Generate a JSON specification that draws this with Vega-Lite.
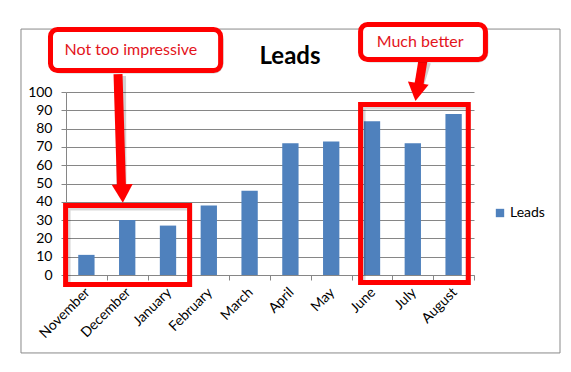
{
  "$schema": "https://vega.github.io/schema/vega-lite/v6.json",
  "width": 408,
  "height": 183,
  "autosize": {"type": "none"},
  "padding": {"left": 66, "top": 92, "right": 97, "bottom": 97},
  "background": "white",
  "config": {
    "font": "Lato",
    "view": {"stroke": null},
    "axis": {"labelFont": "Lato", "labelColor": "black", "labelFontSize": 14},
    "legend": {"labelFont": "Lato", "labelFontSize": 14, "labelColor": "black"}
  },
  "resolve": {"scale": {"x": "independent", "y": "independent"}, "axis": {"x": "independent", "y": "independent"}},
  "layer": [
    {
      "data": {"values": [{"x": -1.103, "x2": 12.108, "y": 134.4, "y2": -42.6}]},
      "mark": {"type": "rect", "filled": false, "stroke": "#898989", "strokeWidth": 1},
      "encoding": {
        "x": {"field": "x", "type": "quantitative", "scale": {"domain": [0, 10], "nice": false, "zero": false}, "axis": null},
        "x2": {"field": "x2"},
        "y": {"field": "y", "type": "quantitative", "scale": {"domain": [0, 100], "nice": false, "zero": false}, "axis": null},
        "y2": {"field": "y2"}
      }
    },
    {
      "data": {"values": [{"x": 5.49, "y": 115.5, "label": "Leads"}]},
      "mark": {"type": "text", "color": "black", "font": "Lato", "fontSize": 24, "fontWeight": "bold", "align": "center", "baseline": "alphabetic"},
      "encoding": {
        "x": {"field": "x", "type": "quantitative", "scale": {"domain": [0, 10], "nice": false, "zero": false}, "axis": null},
        "y": {"field": "y", "type": "quantitative", "scale": {"domain": [0, 100], "nice": false, "zero": false}, "axis": null},
        "text": {"field": "label"}
      }
    },
    {
      "data": {"values": [
        {"month": "November", "leads": 11, "series": "Leads"},
        {"month": "December", "leads": 30, "series": "Leads"},
        {"month": "January", "leads": 27, "series": "Leads"},
        {"month": "February", "leads": 38, "series": "Leads"},
        {"month": "March", "leads": 46, "series": "Leads"},
        {"month": "April", "leads": 72, "series": "Leads"},
        {"month": "May", "leads": 73, "series": "Leads"},
        {"month": "June", "leads": 84, "series": "Leads"},
        {"month": "July", "leads": 72, "series": "Leads"},
        {"month": "August", "leads": 88, "series": "Leads"}
      ]},
      "mark": {"type": "bar", "width": {"band": 0.4}},
      "encoding": {
        "x": {
          "field": "month", "type": "nominal", "sort": null,
          "scale": {"paddingInner": 0, "paddingOuter": 0},
          "axis": {"title": null, "labelAngle": -45, "labelAlign": "right", "labelBaseline": "top", "labelOffset": -4, "tickBand": "extent", "tickSize": 5, "tickColor": "#868686", "domainColor": "#868686", "labelPadding": 5, "grid": false}
        },
        "y": {
          "field": "leads", "type": "quantitative",
          "scale": {"domain": [0, 100], "nice": false, "zero": true},
          "axis": {"title": null, "values": [0, 10, 20, 30, 40, 50, 60, 70, 80, 90, 100], "grid": true, "gridColor": "#868686", "gridOpacity": 1, "tickSize": 5, "tickColor": "#868686", "domainColor": "#868686", "labelPadding": 9}
        },
        "color": {
          "field": "series", "type": "nominal",
          "scale": {"range": ["#4F81BD"]},
          "legend": {"title": null, "orient": "none", "legendX": 427, "legendY": 114, "symbolType": "square", "symbolSize": 70, "symbolStrokeWidth": 0, "labelOffset": 3}
        }
      }
    },
    {
      "data": {"values": [
        {"x": -0.01, "x2": 3.03, "y": 38.0, "y2": -5.2},
        {"x": 7.22, "x2": 9.86, "y": 93.2, "y2": -4.1}
      ]},
      "layer": [
        {"mark": {"type": "rect", "filled": false, "stroke": "black", "strokeOpacity": 0.15, "strokeWidth": 5, "xOffset": 2.5, "yOffset": 2.5}},
        {"mark": {"type": "rect", "filled": false, "stroke": "#FF0000", "strokeWidth": 5}}
      ],
      "encoding": {
        "x": {"field": "x", "type": "quantitative", "scale": {"domain": [0, 10], "nice": false, "zero": false}, "axis": null},
        "x2": {"field": "x2"},
        "y": {"field": "y", "type": "quantitative", "scale": {"domain": [0, 100], "nice": false, "zero": false}, "axis": null},
        "y2": {"field": "y2"}
      }
    },
    {
      "data": {"values": [
        {"x": 1.275, "y": 109.8, "x2": 1.36, "y2": 47.5},
        {"x": 8.75, "y": 117.5, "x2": 8.65, "y2": 103.8}
      ]},
      "layer": [
        {"mark": {"type": "rule", "stroke": "black", "strokeOpacity": 0.18, "strokeWidth": 10, "xOffset": 3, "yOffset": 2}},
        {"mark": {"type": "rule", "stroke": "#FF0000", "strokeWidth": 9}}
      ],
      "encoding": {
        "x": {"field": "x", "type": "quantitative", "scale": {"domain": [0, 10], "nice": false, "zero": false}, "axis": null},
        "x2": {"field": "x2"},
        "y": {"field": "y", "type": "quantitative", "scale": {"domain": [0, 100], "nice": false, "zero": false}, "axis": null},
        "y2": {"field": "y2"}
      }
    },
    {
      "data": {"values": [{"x": 1.385, "y": 44.5}]},
      "mark": {"type": "point", "shape": "triangle-down", "filled": true, "fill": "#FF0000", "opacity": 1, "size": 441, "angle": -2},
      "encoding": {
        "x": {"field": "x", "type": "quantitative", "scale": {"domain": [0, 10], "nice": false, "zero": false}, "axis": null},
        "y": {"field": "y", "type": "quantitative", "scale": {"domain": [0, 100], "nice": false, "zero": false}, "axis": null}
      }
    },
    {
      "data": {"values": [{"x": 8.60, "y": 100}]},
      "mark": {"type": "point", "shape": "triangle-down", "filled": true, "fill": "#FF0000", "opacity": 1, "size": 441, "angle": 9},
      "encoding": {
        "x": {"field": "x", "type": "quantitative", "scale": {"domain": [0, 10], "nice": false, "zero": false}, "axis": null},
        "y": {"field": "y", "type": "quantitative", "scale": {"domain": [0, 100], "nice": false, "zero": false}, "axis": null}
      }
    },
    {
      "data": {"values": [
        {"x": -0.38, "x2": 3.79, "y": 134.2, "y2": 111.7},
        {"x": 7.22, "x2": 10.28, "y": 136.9, "y2": 117.8}
      ]},
      "layer": [
        {"mark": {"type": "rect", "fill": "black", "fillOpacity": 0.2, "stroke": "black", "strokeOpacity": 0.2, "strokeWidth": 6, "cornerRadius": 7, "xOffset": 3, "yOffset": 3}},
        {"mark": {"type": "rect", "fill": "white", "stroke": "#FF0000", "strokeWidth": 5, "cornerRadius": 7}}
      ],
      "encoding": {
        "x": {"field": "x", "type": "quantitative", "scale": {"domain": [0, 10], "nice": false, "zero": false}, "axis": null},
        "x2": {"field": "x2"},
        "y": {"field": "y", "type": "quantitative", "scale": {"domain": [0, 100], "nice": false, "zero": false}, "axis": null},
        "y2": {"field": "y2"}
      }
    },
    {
      "data": {"values": [
        {"x": 1.59, "y": 123, "label": "Not too impressive"},
        {"x": 8.68, "y": 127.3, "label": "Much better"}
      ]},
      "mark": {"type": "text", "color": "#E3141B", "font": "Lato", "fontSize": 16, "align": "center", "baseline": "middle"},
      "encoding": {
        "x": {"field": "x", "type": "quantitative", "scale": {"domain": [0, 10], "nice": false, "zero": false}, "axis": null},
        "y": {"field": "y", "type": "quantitative", "scale": {"domain": [0, 100], "nice": false, "zero": false}, "axis": null},
        "text": {"field": "label"}
      }
    }
  ]
}
